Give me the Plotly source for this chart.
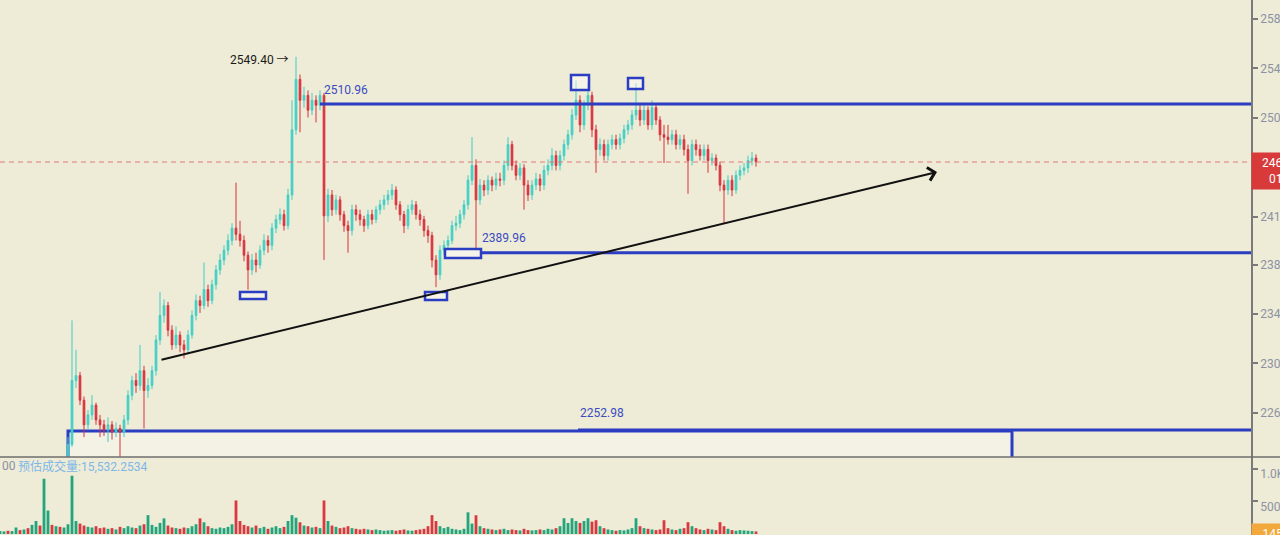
import plotly.graph_objects as go

# ---------------- data ----------------
bar_index = list(range(-17, 173))

first_open = 2188
closes = [2190, 2192, 2189, 2193, 2195, 2194, 2197, 2196, 2198, 2200, 2197, 2206, 2209, 2205, 2207, 2206, 2212,
          2234, 2286, 2290, 2270, 2250, 2258, 2266, 2254, 2250, 2246,
          2250, 2244, 2247, 2244, 2254, 2274, 2286, 2282, 2294, 2278,
          2282, 2294, 2319, 2339, 2347, 2327, 2315, 2323, 2315, 2311,
          2323, 2339, 2351, 2347, 2360, 2351, 2364, 2376, 2384, 2392,
          2400, 2410, 2405, 2400, 2388, 2376, 2384, 2380, 2392, 2400,
          2396, 2410, 2417, 2421, 2412, 2437, 2490, 2531, 2514, 2518,
          2506, 2514, 2510, 2518, 2420, 2437, 2425, 2433, 2421, 2412,
          2408, 2425, 2421, 2417, 2412, 2421, 2417, 2425, 2429, 2433,
          2437, 2441, 2429, 2421, 2412, 2425, 2429, 2421, 2417, 2408,
          2404, 2384, 2372, 2392, 2396, 2400, 2412, 2414, 2421, 2429,
          2449, 2461, 2433, 2445, 2441, 2449, 2445, 2450, 2449, 2461,
          2478, 2461, 2453, 2459, 2445, 2437, 2445, 2450, 2445, 2457,
          2461, 2469, 2461, 2469, 2478, 2486, 2502, 2514, 2494, 2510,
          2518, 2490, 2474, 2478, 2469, 2478, 2482, 2478, 2483, 2490,
          2494, 2502, 2506, 2498, 2506, 2494, 2508, 2498, 2486, 2484,
          2482, 2486, 2478, 2482, 2474, 2465, 2478, 2474, 2469, 2474,
          2465, 2467, 2461, 2445, 2441, 2449, 2441, 2453, 2457, 2459,
          2465, 2467, 2464]

highs = [2192, 2194, 2194, 2195, 2197, 2197, 2199, 2199, 2200, 2202, 2202, 2208, 2211, 2211, 2209, 2209, 2214,
         2240, 2335, 2311, 2293, 2273, 2262, 2274, 2268, 2258, 2254,
         2256, 2253, 2252, 2250, 2258, 2278, 2290, 2292, 2315, 2298,
         2288, 2298, 2323, 2358, 2352, 2350, 2331, 2330, 2326, 2319,
         2327, 2343, 2356, 2355, 2382, 2364, 2368, 2380, 2389, 2396,
         2405, 2414, 2447, 2416, 2404, 2391, 2389, 2390, 2396, 2405,
         2404, 2414, 2421, 2426, 2425, 2442, 2514, 2549.4, 2535, 2525,
         2522, 2520, 2518, 2522, 2520, 2442, 2441, 2437, 2436, 2424,
         2416, 2429, 2429, 2425, 2420, 2425, 2425, 2428, 2433, 2437,
         2441, 2446, 2444, 2432, 2424, 2429, 2433, 2432, 2425, 2420,
         2412, 2407, 2388, 2396, 2400, 2404, 2416, 2420, 2425, 2433,
         2453, 2484, 2466, 2450, 2449, 2453, 2452, 2455, 2455, 2465,
         2484, 2481, 2465, 2463, 2462, 2449, 2449, 2455, 2454, 2461,
         2466, 2475, 2473, 2473, 2482, 2490, 2507, 2530, 2518, 2514,
         2528, 2521, 2494, 2483, 2482, 2482, 2486, 2486, 2487, 2494,
         2498, 2506, 2528, 2510, 2510, 2509, 2514, 2511, 2501, 2494,
         2494, 2490, 2490, 2486, 2486, 2478, 2482, 2482, 2478, 2478,
         2478, 2471, 2470, 2464, 2449, 2453, 2453, 2457, 2461, 2463,
         2469, 2472, 2470]

lows = [2185, 2187, 2186, 2186, 2190, 2191, 2191, 2193, 2193, 2195, 2194, 2194, 2203, 2202, 2202, 2203, 2203,
        2210, 2232, 2280, 2266, 2240, 2246, 2254, 2250, 2240, 2241,
        2236, 2238, 2240, 2224, 2240, 2250, 2270, 2276, 2278, 2247,
        2272, 2279, 2290, 2315, 2333, 2322, 2311, 2312, 2309, 2304,
        2308, 2320, 2335, 2341, 2344, 2346, 2348, 2360, 2372, 2380,
        2388, 2396, 2400, 2395, 2383, 2360, 2372, 2374, 2377, 2388,
        2390, 2392, 2406, 2413, 2408, 2409, 2433, 2486, 2488, 2508,
        2500, 2502, 2496, 2506, 2384, 2415, 2420, 2421, 2416, 2407,
        2390, 2404, 2416, 2412, 2407, 2409, 2413, 2414, 2421, 2425,
        2429, 2433, 2425, 2416, 2406, 2409, 2421, 2417, 2412, 2403,
        2398, 2378, 2362, 2368, 2388, 2392, 2397, 2408, 2410, 2417,
        2425, 2445, 2392, 2429, 2436, 2437, 2440, 2441, 2444, 2445,
        2457, 2457, 2449, 2449, 2425, 2432, 2433, 2441, 2440, 2441,
        2453, 2457, 2457, 2457, 2465, 2474, 2482, 2498, 2488, 2490,
        2506, 2484, 2455, 2469, 2465, 2465, 2474, 2474, 2474, 2479,
        2486, 2490, 2498, 2493, 2494, 2490, 2490, 2494, 2481, 2463,
        2478, 2478, 2474, 2474, 2469, 2438, 2461, 2469, 2465, 2465,
        2455, 2461, 2457, 2440, 2414, 2437, 2436, 2438, 2449, 2453,
        2455, 2461, 2460]

volumes = [45, 40, 50, 45, 100, 60, 70, 90, 140, 200, 130, 848, 360, 140, 120, 110, 100,
           150, 894, 200, 160, 130, 110, 100, 120, 90, 100,
           80, 90, 70, 110, 90, 120, 100, 90, 130, 150,
           290, 140, 110, 170, 240, 130, 100, 90, 80, 100,
           90, 120, 150, 240, 180, 120, 90, 80, 100, 90,
           110, 150, 515, 200, 140, 120, 100, 130, 90, 110,
           80, 100, 120, 90, 110, 200, 290, 250, 180, 130,
           120, 100, 110, 90, 515, 200, 130, 110, 90, 100,
           120, 90, 80, 70, 80, 70, 60, 70, 60, 50,
           55, 60, 50, 60, 70, 55, 50, 60, 70, 80,
           120, 290, 200, 120, 90, 110, 80, 70, 60, 80,
           333, 160, 288, 120, 90, 80, 70, 60, 70, 80,
           60, 70, 60, 55, 80, 60, 55, 60, 70, 60,
           80, 70, 90, 120, 242, 170, 242, 200, 170, 200,
           242, 190, 212, 120, 90, 70, 60, 50, 60, 55,
           70, 90, 242, 120, 90, 80, 70, 60, 70, 212,
           90, 70, 60, 80, 90, 182, 120, 90, 70, 60,
           80, 70, 60, 182, 120, 80, 60, 50, 60, 55,
           50, 45, 40]

price_ticks = [2260, 2300, 2340, 2380, 2419, 2460, 2500, 2540, 2580]
price_tick_text = ["2260.00", "2300.00", "2340.00", "2380.00", "2419.60", "2460.00", "2500.00", "2540.00", "2580.00"]
volume_ticks = [500, 1000]
volume_tick_text = ["500", "1.0K"]

last_price = 2463.8
high_label = "2549.40 \u2192"
level_upper = 2510.96
level_mid = 2389.96
level_low_label = "2252.98"
level_low_drawn = 2245.7
volume_label = "\u9884\u4f30\u6210\u4ea4\u91cf:15,532.2534"

# ---------------- styles ----------------
BG = "#EEEBD6"
UP = "#3FCFC5"
DOWN = "#D7323E"
VUP = "#22A47C"
VDOWN = "#D63A40"
BLUE = "#2B3DC2"
AXIS = "#7A7A7A"
TICKC = "#8C92A4"

opens = [first_open] + closes[:-1]
vol_colors = [VUP if c >= o else VDOWN for o, c in zip(opens, closes)]

X0, X1 = -17, 295.75
fig = go.Figure()
fig.add_trace(go.Candlestick(
    x=bar_index, open=opens, high=highs, low=lows, close=closes,
    increasing=dict(line=dict(color=UP, width=1), fillcolor=UP),
    decreasing=dict(line=dict(color=DOWN, width=1), fillcolor=DOWN),
    whiskerwidth=0, showlegend=False, hoverinfo="skip", xaxis="x", yaxis="y"))
fig.add_trace(go.Bar(
    x=bar_index, y=volumes, marker=dict(color=vol_colors, line=dict(width=0)),
    width=0.7, showlegend=False, hoverinfo="skip", xaxis="x2", yaxis="y2"))

vol_dom = 78 / 535
fig.update_layout(
    width=1280, height=535,
    margin=dict(l=0, r=29, t=0, b=0, autoexpand=False),
    paper_bgcolor=BG, plot_bgcolor=BG,
    font=dict(family="Roboto, 'Noto Sans CJK SC', sans-serif", size=12, color=TICKC),
    hovermode=False, showlegend=False, boxgap=0.4,
    xaxis=dict(domain=[0, 1], range=[X0, X1], visible=False, anchor="y",
               rangeslider=dict(visible=False), fixedrange=True, automargin=False),
    xaxis2=dict(domain=[0, 1], range=[X0, X1], visible=False, anchor="y2", matches="x",
                automargin=False),
    yaxis=dict(domain=[vol_dom, 1], range=[2223.8, 2595.6], side="right", anchor="x",
               automargin=False,
               showgrid=False, zeroline=False, showline=True, linecolor=AXIS, linewidth=1.5,
               ticks="outside", ticklen=5, tickcolor=AXIS, tickwidth=1.5,
               tickvals=price_ticks, ticktext=price_tick_text,
               tickfont=dict(size=12, color=TICKC)),
    yaxis2=dict(domain=[0, vol_dom], range=[-15, 1182], side="right", anchor="x2",
                automargin=False, ticklabelshift=5,
                showgrid=False, zeroline=False, showline=True, linecolor=AXIS, linewidth=1.5,
                ticks="outside", ticklen=5, tickcolor=AXIS, tickwidth=1.5,
                tickvals=volume_ticks, ticktext=volume_tick_text,
                tickfont=dict(size=12, color=TICKC)),
)

shapes = []
# big zone rectangle
shapes.append(dict(type="rect", xref="x", yref="y", x0=0, x1=236, y0=2245.0, y1=2150,
                   fillcolor="#F4F2E4", line=dict(color=BLUE, width=3), layer="below"))
# horizontal levels
shapes.append(dict(type="line", xref="x", yref="y", x0=63, x1=X1, y0=level_upper, y1=level_upper,
                   line=dict(color=BLUE, width=3)))
shapes.append(dict(type="line", xref="x", yref="y", x0=103.25, x1=X1, y0=level_mid, y1=level_mid,
                   line=dict(color=BLUE, width=3)))
shapes.append(dict(type="line", xref="x", yref="y", x0=127.5, x1=X1, y0=level_low_drawn, y1=level_low_drawn,
                   line=dict(color=BLUE, width=3)))
# last price dashed line
shapes.append(dict(type="line", xref="x", yref="y", x0=X0, x1=X1, y0=last_price, y1=last_price,
                   line=dict(color="#E27878", width=1, dash="5px,4px")))
# small boxes
for (a, b, lo, hi) in [(43, 49.5, 2352.3, 2358.0), (89.25, 94.75, 2351.5, 2358.0),
                       (94.25, 103.25, 2385.7, 2393.0), (125.75, 130.25, 2522.4, 2534.6),
                       (140, 143.75, 2523.2, 2532.1)]:
    shapes.append(dict(type="rect", xref="x", yref="y", x0=a, x1=b, y0=lo, y1=hi,
                       fillcolor="rgba(255,255,255,0.45)", line=dict(color=BLUE, width=2.5)))
# pane separator
shapes.append(dict(type="line", xref="paper", yref="paper", x0=0, x1=1.05, y0=vol_dom, y1=vol_dom,
                   line=dict(color="#6E6E6E", width=1.5)))
fig.update_layout(shapes=shapes)

ann = []
ann.append(dict(x=217.25, y=2455.7, ax=23, ay=2302.7, xref="x", yref="y", axref="x", ayref="y",
                showarrow=True, arrowhead=4, arrowsize=1.3, arrowwidth=2, arrowcolor="#111111", text=""))
ann.append(dict(x=55.75, y=2546.7, xref="x", yref="y", text=high_label, showarrow=False,
                xanchor="right", yanchor="middle", font=dict(color="#1A1A1A", size=12)))
ann.append(dict(x=63.5, y=2522.4, xref="x", yref="y", text=f"{level_upper:.2f}", showarrow=False,
                xanchor="left", yanchor="middle", font=dict(color="#3A4CC4", size=12)))
ann.append(dict(x=103, y=2401.9, xref="x", yref="y", text=f"{level_mid:.2f}", showarrow=False,
                xanchor="left", yanchor="middle", font=dict(color="#3A4CC4", size=12)))
ann.append(dict(x=127.5, y=2259.6, xref="x", yref="y", text=level_low_label, showarrow=False,
                xanchor="left", yanchor="middle", font=dict(color="#3A4CC4", size=12)))
# last price tag on axis
ann.append(dict(x=1.0, y=2471.9, xref="paper", yref="y", text=f"{last_price:.2f}<br>01:52",
                showarrow=False, xanchor="left", yanchor="top", align="center", width=58,
                bgcolor="#D83A3A", borderpad=3, font=dict(color="white", size=12)))
# volume tag on axis
ann.append(dict(x=1.0, y=0, xref="paper", yref="y2", text="145.12", showarrow=False,
                xanchor="left", yanchor="middle", align="center", width=52,
                bgcolor="#F2A83B", borderpad=3, font=dict(color="white", size=12)))
# volume legend
ann.append(dict(x=0, y=(535 - 466) / 535, xref="paper", yref="paper", text="00", showarrow=False,
                xanchor="left", yanchor="middle", font=dict(color="#8C92A4", size=12)))
ann.append(dict(x=16 / 1251, y=(535 - 466) / 535, xref="paper", yref="paper", text=volume_label,
                showarrow=False, xanchor="left", yanchor="middle", font=dict(color="#7DB7E8", size=12)))
fig.update_layout(annotations=ann)

fig.write_html("out.html", config={"displayModeBar": False},
               post_script="document.body.style.margin='0';document.body.style.overflow='hidden';")
